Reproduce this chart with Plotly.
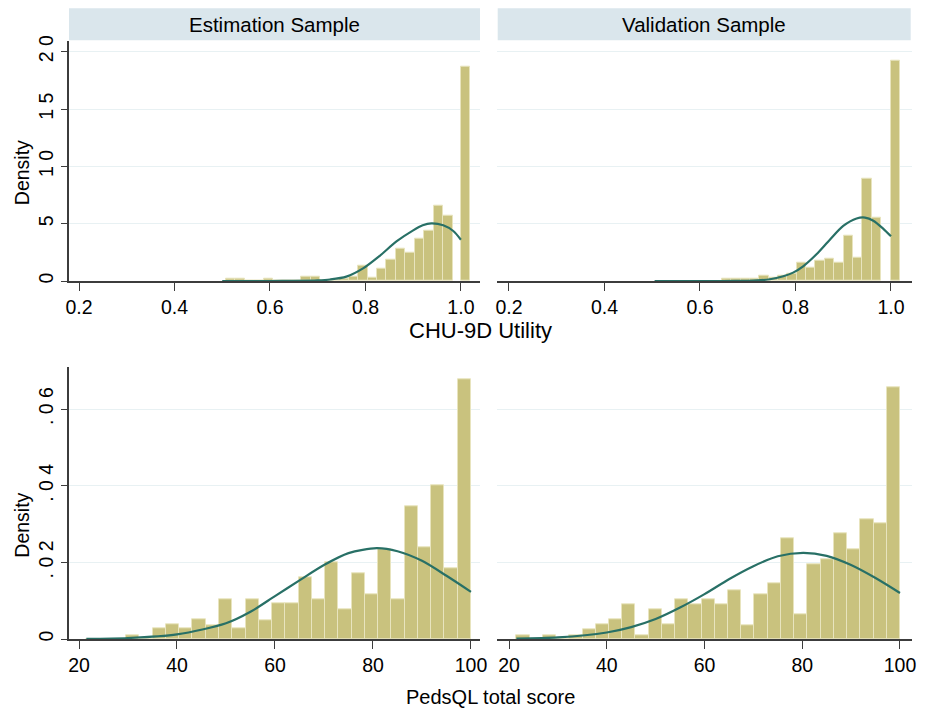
import plotly.graph_objects as go

# ---------------- data ----------------
# CHU-9D utility, estimation sample: regular bins + separate bar at 1.0 (full health)
util_est_bin_start = 0.5074
util_est_bin_width = 0.0198
util_est_density = [0.23, 0.23, 0, 0, 0.2, 0, 0, 0, 0.35, 0.35, 0, 0.1, 0.2, 0.4,
                    1.35, 0.3, 1.1, 1.9, 2.8, 2.45, 3.7, 4.4, 6.6, 5.7]
util_est_full_start = 1.0
util_est_full_density = 18.65
util_est_curve_x = [0.50, 0.55, 0.60, 0.65, 0.70, 0.726, 0.76, 0.795, 0.83, 0.865,
                    0.90, 0.92, 0.938, 0.963, 0.984, 1.0]
util_est_curve_y = [0.0, 0.0, 0.001, 0.01, 0.05, 0.13, 0.38, 1.1, 2.2, 3.45,
                    4.42, 4.86, 5.03, 4.86, 4.36, 3.6]

# CHU-9D utility, validation sample
util_val_bin_start = 0.6458
util_val_bin_width = 0.0196
util_val_density = [0.2, 0.2, 0.2, 0.23, 0.5, 0.3, 0.5, 0.6, 1.6, 1.16, 1.75, 1.95,
                    1.6, 3.96, 2.04, 8.93, 5.53]
util_val_full_start = 1.0
util_val_full_density = 19.2
util_val_curve_x = [0.505, 0.55, 0.60, 0.65, 0.70, 0.72, 0.7466, 0.7745, 0.795, 0.816,
                    0.844, 0.872, 0.90, 0.928, 0.9456, 0.963, 0.984, 1.0]
util_val_curve_y = [0.0, 0.0, 0.0, 0.0, 0.02, 0.05, 0.15, 0.42, 0.73, 1.28,
                    2.33, 3.6, 4.8, 5.45, 5.53, 5.26, 4.55, 3.9]

# PedsQL total score (29 bins from 21.5 to 100)
peds_bin_start = 21.5
peds_bin_width = 2.707
peds_est_density = [0, 0, 0, 0.001, 0, 0.0028, 0.0038, 0.0028, 0.0051, 0.0037,
                    0.0104, 0.0028, 0.0104, 0.005, 0.0093, 0.0093, 0.0161, 0.0104,
                    0.0199, 0.0077, 0.0171, 0.0117, 0.0235, 0.0104, 0.0347, 0.0238,
                    0.040, 0.0184, 0.0678]
peds_val_density = [0.001, 0, 0.001, 0, 0.001, 0.0025, 0.0038, 0.0051, 0.0091, 0.001,
                    0.0077, 0.0038, 0.0104, 0.0091, 0.0104, 0.009, 0.0128, 0.0037,
                    0.0117, 0.0145, 0.0262, 0.0064, 0.0196, 0.0209, 0.0276, 0.0235,
                    0.0312, 0.0302, 0.0656]
peds_est_curve_x = [21.5, 30, 40, 50, 55, 60, 65, 70, 75, 80.75, 85, 90, 95, 100]
peds_est_curve_y = [0.00005, 0.00025, 0.0012, 0.0041, 0.0071, 0.0112, 0.0153, 0.0193,
                    0.0224, 0.0237, 0.0229, 0.0204, 0.0165, 0.0123]
peds_val_curve_x = [21.5, 30, 40, 45, 50, 55, 60, 65, 70, 75, 80.2, 85, 90, 95, 100]
peds_val_curve_y = [0.0001, 0.0004, 0.0017, 0.0031, 0.0052, 0.0082, 0.0117, 0.0156,
                    0.019, 0.0216, 0.0225, 0.0217, 0.0193, 0.0159, 0.012]

panel_titles = ["Estimation Sample", "Validation Sample"]
util_ticks = [0.2, 0.4, 0.6, 0.8, 1.0]
util_ticktext = ["0.2", "0.4", "0.6", "0.8", "1.0"]
peds_ticks = [20, 40, 60, 80, 100]
peds_ticktext = ["20", "40", "60", "80", "100"]
util_yticks = [0, 5, 10, 15, 20]
util_yticktext = ["0", "5", "1 0", "1 5", "2 0"]
peds_yticks = [0, 0.02, 0.04, 0.06]
peds_yticktext = ["0", ". 0 2", ". 0 4", ". 0 6"]

# ---------------- style ----------------
BAR_FILL = "rgb(201,194,126)"
BAR_LINE = "rgb(232,228,190)"
CURVE = "rgb(40,112,102)"
AXIS = "rgb(60,60,60)"
GRID = "rgb(232,241,243)"
FONT = "Liberation Sans, Arial, sans-serif"
PAGE_W, PAGE_H = 932, 715
BODY = 8                      # default page body margin of the html page
W, H = PAGE_W - BODY, PAGE_H - BODY


def px_x(p):
    return (p - BODY) / W


def px_y(p):
    return 1 - (p - BODY) / H


fig = go.Figure()


def add_hist(start, width, dens, xa, ya, extra=None):
    xs = [start + width * (i + 0.5) for i in range(len(dens))]
    ws = [width] * len(dens)
    ys = list(dens)
    if extra is not None:
        xs.append(extra[0] + width / 2)
        ws.append(width)
        ys.append(extra[1])
    fig.add_trace(go.Bar(x=xs, y=ys, width=ws, xaxis=xa, yaxis=ya,
                         marker=dict(color=BAR_FILL, line=dict(color=BAR_LINE, width=1)),
                         showlegend=False, hoverinfo="skip"))


def add_curve(cx, cy, xa, ya):
    fig.add_trace(go.Scatter(x=cx, y=cy, mode="lines", xaxis=xa, yaxis=ya,
                             line=dict(color=CURVE, width=2.2, shape="spline", smoothing=0.8),
                             showlegend=False, hoverinfo="skip"))


add_hist(util_est_bin_start, util_est_bin_width, util_est_density, "x", "y",
         (util_est_full_start, util_est_full_density))
add_curve(util_est_curve_x, util_est_curve_y, "x", "y")
add_hist(util_val_bin_start, util_val_bin_width, util_val_density, "x2", "y2",
         (util_val_full_start, util_val_full_density))
add_curve(util_val_curve_x, util_val_curve_y, "x2", "y2")
add_hist(peds_bin_start, peds_bin_width, peds_est_density, "x3", "y3")
add_curve(peds_est_curve_x, peds_est_curve_y, "x3", "y3")
add_hist(peds_bin_start, peds_bin_width, peds_val_density, "x4", "y4")
add_curve(peds_val_curve_x, peds_val_curve_y, "x4", "y4")

tickfont = dict(family=FONT, size=19.5, color="black")

left_dom = [px_x(69), px_x(480)]
right_dom = [px_x(497), px_x(912)]
top_dom = [px_y(281), px_y(40.7)]
bot_dom = [px_y(639), px_y(367.3)]

xcommon = dict(showline=True, linecolor=AXIS, linewidth=1.6, ticks="outside", ticklen=8,
               tickcolor=AXIS, tickwidth=1.4, showgrid=False, zeroline=False,
               tickfont=tickfont, automargin=False)
ycommon = dict(showgrid=True, gridcolor=GRID, gridwidth=1.2, zeroline=False, automargin=False)

fig.update_layout(
    width=W, height=H, margin=dict(l=0, r=0, t=0, b=0, pad=0, autoexpand=False),
    paper_bgcolor="white", plot_bgcolor="white", bargap=0, barmode="overlay",
    showlegend=False, font=dict(family=FONT, color="black"),
    xaxis=dict(domain=left_dom, anchor="y", range=[0.179, 1.040],
               tickvals=util_ticks, ticktext=util_ticktext, **xcommon),
    xaxis2=dict(domain=right_dom, anchor="y2", range=[0.175, 1.044],
                tickvals=util_ticks, ticktext=util_ticktext, **xcommon),
    xaxis3=dict(domain=left_dom, anchor="y3", range=[17.96, 101.84],
                tickvals=peds_ticks, ticktext=peds_ticktext, **xcommon),
    xaxis4=dict(domain=right_dom, anchor="y4", range=[17.54, 102.46],
                tickvals=peds_ticks, ticktext=peds_ticktext, **xcommon),
    yaxis=dict(domain=top_dom, anchor="x", range=[0, 20.96], tickvals=util_yticks,
               ticktext=util_yticktext, tickangle=-90, showline=True, linecolor=AXIS,
               linewidth=1.6, ticks="outside", ticklen=6, tickcolor=AXIS, tickwidth=1.4,
               tickfont=tickfont, **ycommon),
    yaxis2=dict(domain=top_dom, anchor="x2", range=[0, 20.96], tickvals=util_yticks,
                showticklabels=False, showline=False, ticks="", **ycommon),
    yaxis3=dict(domain=bot_dom, anchor="x3", range=[0, 0.0709], tickvals=peds_yticks,
                ticktext=peds_yticktext, tickangle=-90, showline=True, linecolor=AXIS,
                linewidth=1.6, ticks="outside", ticklen=6, tickcolor=AXIS, tickwidth=1.4,
                tickfont=tickfont, **ycommon),
    yaxis4=dict(domain=bot_dom, anchor="x4", range=[0, 0.0709], tickvals=peds_yticks,
                showticklabels=False, showline=False, ticks="", **ycommon),
)

# strip headers
STRIP = "rgb(218,230,236)"
for (x0, x1), title in zip([(69, 480), (497.7, 910.7)], panel_titles):
    fig.add_shape(type="rect", xref="paper", yref="paper", x0=px_x(x0), x1=px_x(x1),
                  y0=px_y(40.3), y1=px_y(8.3), fillcolor=STRIP, line=dict(width=0),
                  layer="below")
    fig.add_annotation(text=title, xref="paper", yref="paper", x=px_x((x0 + x1) / 2),
                       y=px_y(24.5), showarrow=False, xanchor="center", yanchor="middle",
                       font=dict(family=FONT, size=20.5, color="black"))

# axis titles
fig.add_annotation(text="CHU-9D Utility", xref="paper", yref="paper", x=px_x(480),
                   y=px_y(330), showarrow=False, xanchor="center", yanchor="middle",
                   borderpad=0, font=dict(family=FONT, size=22, color="black"))
fig.add_annotation(text="PedsQL total score", xref="paper", yref="paper", x=px_x(490),
                   y=px_y(697), showarrow=False, xanchor="center", yanchor="middle",
                   font=dict(family=FONT, size=20, color="black"))
for yc in (172.5, 525):
    fig.add_annotation(text="Density", xref="paper", yref="paper", x=px_x(21.7),
                       y=px_y(yc), showarrow=False, textangle=-90, xanchor="center",
                       yanchor="middle", font=dict(family=FONT, size=19.5, color="black"))

fig.write_html("out.html")
